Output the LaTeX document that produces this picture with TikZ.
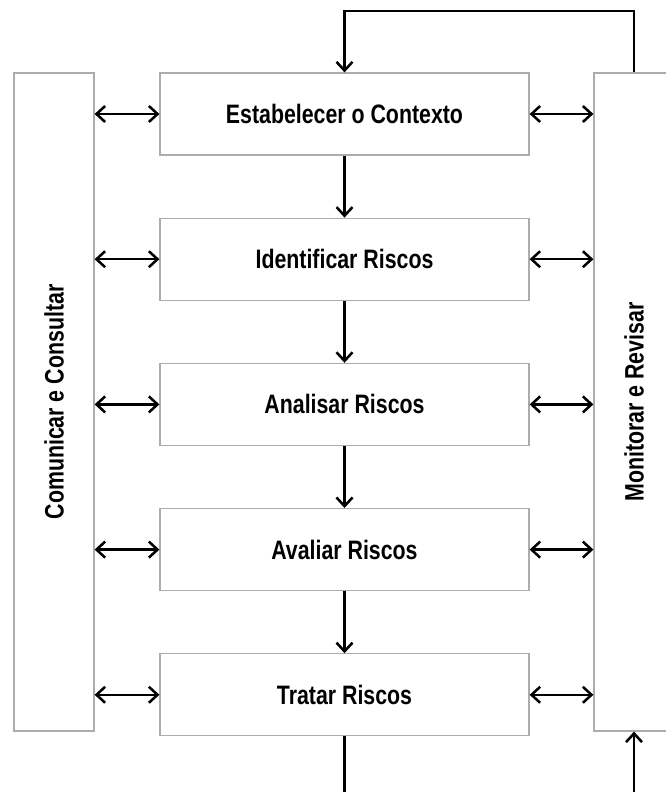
\documentclass[tikz,border=0pt]{standalone}
\usepackage{fontspec}
\newfontfamily\boxfont{Liberation Sans}[FakeStretch=0.8]
\usepackage{tikz}
\usetikzlibrary{
  arrows.meta,
  positioning,
}

\begin{document}
\begin{tikzpicture}[
  x=0.75pt, y=-0.75pt,
  every node/.style={font=\boxfont\bfseries\fontsize{20}{24}\selectfont},
  stage/.style={
    rectangle, draw=gray!65, line width=0.9pt,
    minimum width=276.75pt, minimum height=61.5pt,
    inner sep=0pt, align=center,
  },
  sidebox/.style={
    rectangle, draw=gray!65, line width=0.9pt,
    minimum width=60pt, minimum height=493.5pt,
    inner sep=0pt,
  },
  flow/.style={draw, line width=1.9pt, -{Straight Barb[length=6.5pt,width=12pt]}},
  biflow/.style={draw, line width=1.9pt, {Straight Barb[length=6.5pt,width=12pt]}-{Straight Barb[length=6.5pt,width=12pt]}},
  node distance=46.5pt,
]
  \useasboundingbox (0,0) rectangle (665,792);

  \node[stage] (ctx) at (344.5,114) {Estabelecer o Contexto};
  \node[stage, below=of ctx] (idr) {Identificar Riscos};
  \node[stage, below=of idr] (anr) {Analisar Riscos};
  \node[stage, below=of anr] (avr) {Avaliar Riscos};
  \node[stage, below=of avr] (trr) {Tratar Riscos};

  % Side columns
  \node[sidebox] (com) at (54,402) {\rotatebox{90}{Comunicar e Consultar}};
  \node[sidebox] (rev) at (634,402) {\rotatebox{90}{Monitorar e Revisar}};

  % Main sequence
  \draw[flow] (ctx) -- (idr);
  \draw[flow] (idr) -- (anr);
  \draw[flow] (anr) -- (avr);
  \draw[flow] (avr) -- (trr);

  % Left exchanges
  \draw[biflow] (com.east |- ctx) -- (ctx.west);
  \draw[biflow] (com.east |- idr) -- (idr.west);
  \draw[biflow] (com.east |- anr) -- (anr.west);
  \draw[biflow] (com.east |- avr) -- (avr.west);
  \draw[biflow] (com.east |- trr) -- (trr.west);

  % Right exchanges
  \draw[biflow] (ctx.east) -- (rev.west |- ctx);
  \draw[biflow] (idr.east) -- (rev.west |- idr);
  \draw[biflow] (anr.east) -- (rev.west |- anr);
  \draw[biflow] (avr.east) -- (rev.west |- avr);
  \draw[biflow] (trr.east) -- (rev.west |- trr);

  % Feedback loops
  \coordinate (fbtop) at (0,11);
  \coordinate (fbbot) at (0,793);
  \draw[flow] (rev.north) |- (fbtop -| ctx.north) -- (ctx.north);
  \draw[flow] (trr.south) |- (fbbot -| rev.south) -- (rev.south);

\end{tikzpicture}
\end{document}
